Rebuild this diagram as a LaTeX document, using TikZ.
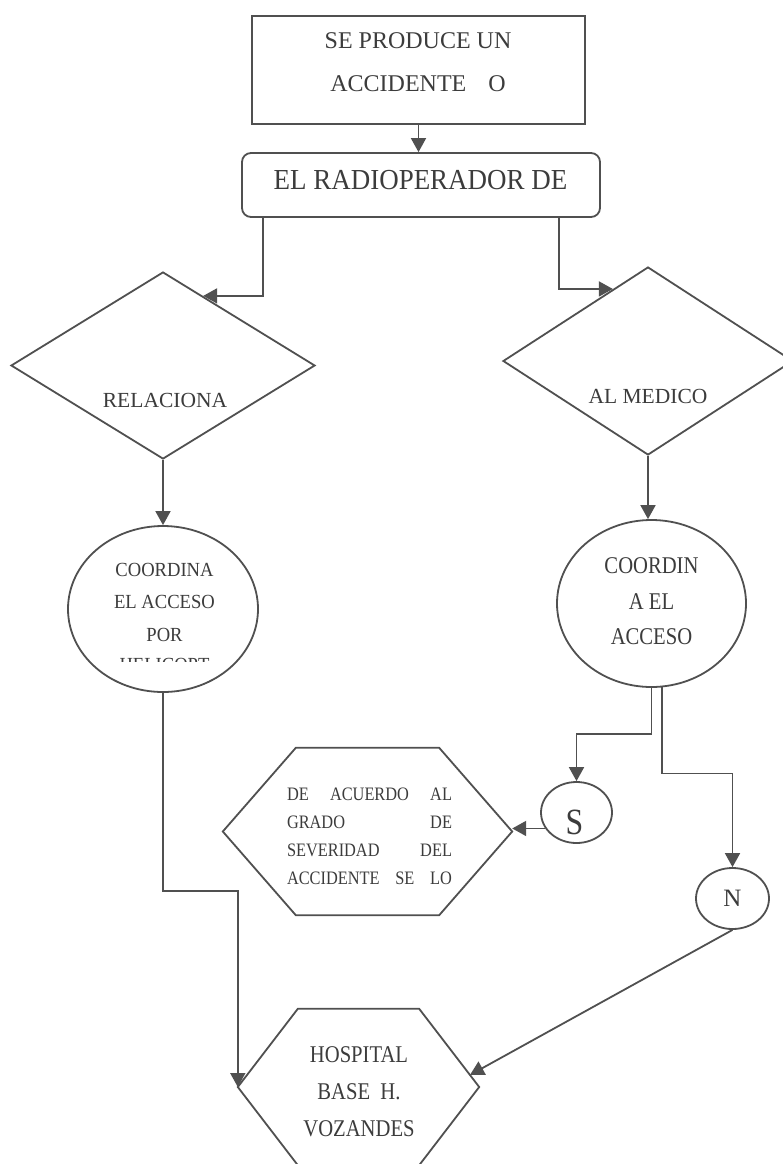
\documentclass[tikz,border=0pt]{standalone}
\usepackage{fontspec}
\setmainfont{Liberation Serif}
\newfontfamily\slimserif{Liberation Serif}[FakeStretch=0.93]
\newfontfamily\narrowserif{Liberation Serif}[FakeStretch=0.86]
\usetikzlibrary{shapes.geometric,arrows.meta,calc}
\definecolor{linegray}{HTML}{505050}
\definecolor{textgray}{HTML}{3C3C3C}
\tikzset{
  shape line/.style={draw=linegray, line width=1.8pt, text=textgray},
  label text/.style={text=textgray, inner sep=0pt, align=center},
  flow/.style={draw=linegray, line width=1.8pt, -{Triangle[length=14pt,width=15pt]}},
}
\begin{document}
\begin{tikzpicture}[x=1pt,y=-1pt]
  \useasboundingbox (0,0) rectangle (783,1164);
  \fill[white] (0,0) rectangle (783,1164);

  % upper part
  \node[shape line, rectangle, minimum width=333pt, minimum height=108pt] (accidente) at (418.5,70) {};
  \node[label text, font=\fontsize{24}{43}\selectfont] (accidente-txt) at (418,62.5) {SE PRODUCE UN\\ACCIDENTE\hspace{22pt}O};
  \node[shape line, rectangle, rounded corners=9pt, minimum width=358pt, minimum height=64pt] (radio) at (421,185) {};
  \node[label text, font=\slimserif\fontsize{29}{34}\selectfont] (radio-txt) at (420.5,180) {EL RADIOPERADOR DE};

  \node[shape line, diamond, minimum width=304pt, minimum height=187pt] (relaciona) at (163,365.5) {};
  \node[label text, font=\fontsize{21.5}{26}\selectfont] (relaciona-txt) at (165,400) {RELACIONA};
  \node[shape line, diamond, minimum width=290pt, minimum height=188pt] (medico) at (648,361) {};
  \node[label text, font=\fontsize{21.5}{26}\selectfont] (medico-txt) at (648,396) {AL MEDICO};

  \node[shape line, ellipse, minimum width=190pt, minimum height=166pt] (coordL) at (163,609) {};
  \node[label text, font=\slimserif\fontsize{20}{32.5}\selectfont] (coordL-txt) at (164.5,602) {COORDINA\\EL ACCESO\\POR};
  \begin{scope}
    \clip (100,650) rectangle (230,661.5);
    \node[label text, anchor=base, font=\slimserif\fontsize{20}{32.5}\selectfont] (coordL-cut) at (164.5,671) {HELICOPT};
  \end{scope}
  \node[shape line, ellipse, minimum width=189pt, minimum height=167pt] (coordR) at (651.5,603.5) {};
  \node[label text, font=\narrowserif\fontsize{24}{35.5}\selectfont] (coordR-txt) at (651.5,601.5) {COORDIN\\A EL\\ACCESO};

  % lower part
  \node[shape line, ellipse, minimum width=71pt, minimum height=61pt] (si) at (576.5,812.5) {};
  \node[label text, font=\narrowserif\fontsize{37}{40}\selectfont] (si-txt) at (574.5,822) {S};
  \node[shape line, ellipse, minimum width=73pt, minimum height=61pt,
        font=\fontsize{25}{28}\selectfont] (no) at (732.5,898.5) {N};

  \node[rectangle, minimum width=289pt, minimum height=167pt] (acuerdo) at (367.5,831.5) {};
  \draw[shape line] (acuerdo.west) -- ([xshift=73pt]acuerdo.north west) -- ([xshift=-73pt]acuerdo.north east)
        -- (acuerdo.east) -- ([xshift=-73pt]acuerdo.south east) -- ([xshift=73pt]acuerdo.south west) -- cycle;
  \node[label text, text width=165pt, align=justify, font=\narrowserif\fontsize{19}{28}\selectfont] (acuerdo-txt) at (369.5,836.5)
        {DE\hfill ACUERDO\hfill AL\\GRADO\hfill DE\\SEVERIDAD\hfill DEL\\ACCIDENTE\hfill SE\hfill LO};

  \node[rectangle, minimum width=241pt, minimum height=156pt] (hospital) at (358.5,1087) {};
  \draw[shape line] (hospital.west) -- ([xshift=60pt]hospital.north west) -- ([xshift=-60pt]hospital.north east)
        -- (hospital.east) -- ([xshift=-60pt]hospital.south east) -- ([xshift=60pt]hospital.south west) -- cycle;
  \node[label text, font=\narrowserif\fontsize{24}{37}\selectfont] (hospital-txt) at (359,1092) {HOSPITAL\\BASE\ \ H.\\VOZANDES};
  \coordinate (hospital-in) at ($(hospital.east)!0.154!([xshift=-60pt]hospital.north east)$);

  \draw[flow] (accidente.south) -- (accidente.south |- radio.north);
  \draw[flow] ([xshift=22pt]radio.south west) |- (relaciona.60.7);
  \draw[flow] ([xshift=-42pt]radio.south east) |- (medico.116.6);
  \draw[flow] (relaciona.south) -- (coordL.north);
  \draw[flow] (medico.south) -- (medico.south |- coordR.north);
  \draw[flow] (coordR.south) -- ++(0,46) -| (si.north);
  \draw[flow] (coordR.-83) -- ++(0,86) -| (no.north);
  \draw[flow] (si.207) -- (si.207 -| acuerdo.east);
  \draw[flow] (no.south) -- (hospital-in);
  \draw[flow] (coordL.south) -- ++(0,198) -| (hospital.west);
\end{tikzpicture}
\end{document}
